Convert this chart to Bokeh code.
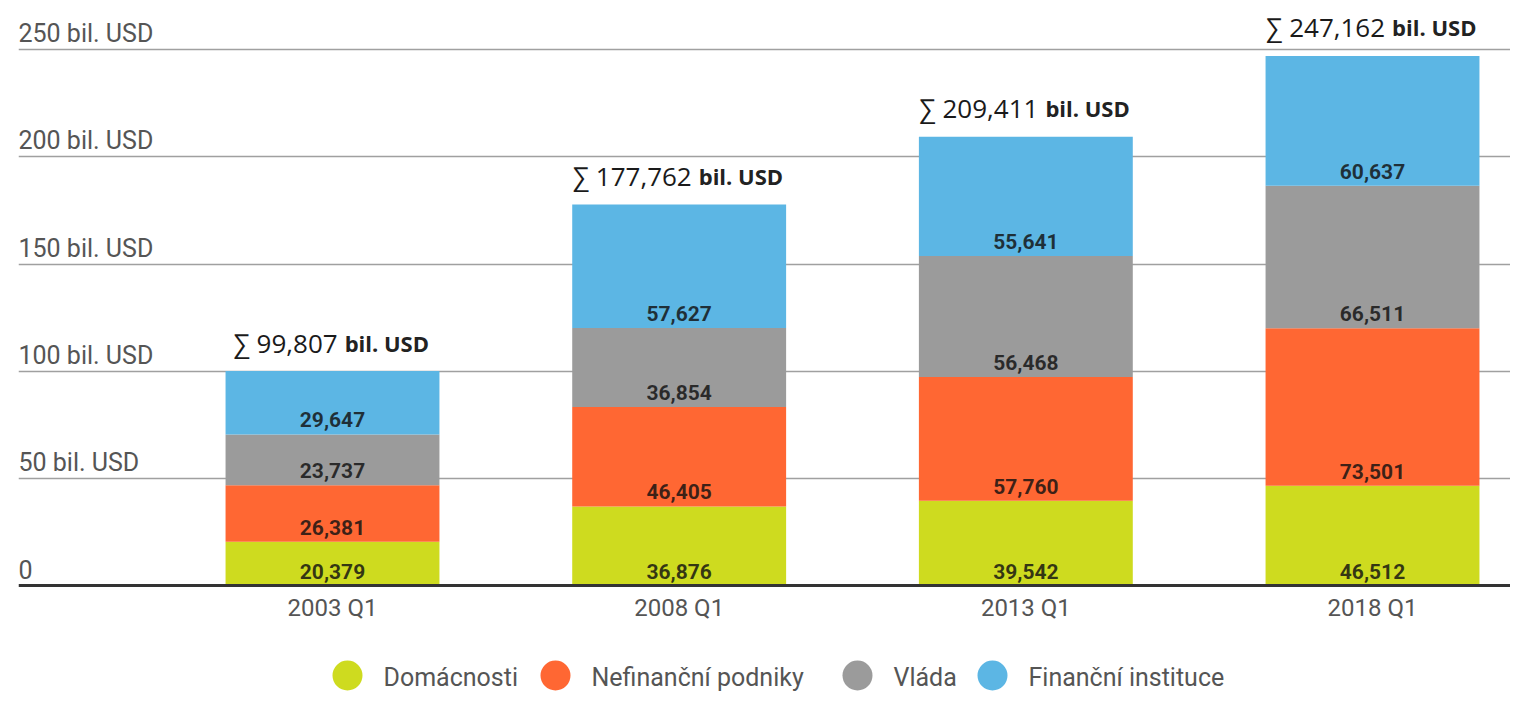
from bokeh.plotting import figure
from bokeh.models import ColumnDataSource, Range1d, FixedTicker, Span, Grid
from bokeh.core.properties import value
from bokeh.embed import file_html
from bokeh.resources import INLINE

# ---------------- data ----------------
quarters = ["2003 Q1", "2008 Q1", "2013 Q1", "2018 Q1"]
series = ["Domácnosti", "Nefinanční podniky", "Vláda", "Finanční instituce"]
domacnosti = [20.379, 36.876, 39.542, 46.512]
nefinancni = [26.381, 46.405, 57.760, 73.501]
vlada = [23.737, 36.854, 56.468, 66.511]
financni = [29.647, 57.627, 55.641, 60.637]
totals = [99.807, 177.762, 209.411, 247.162]
y_ticks = [0, 50, 100, 150, 200, 250]
y_tick_labels = ["0", "50 bil. USD", "100 bil. USD", "150 bil. USD", "200 bil. USD", "250 bil. USD"]
unit_label = "bil. USD"

# ---------------- style ----------------
colors = ["#CEDB1F", "#FF6733", "#9B9B9B", "#5CB6E4"]
W, H = 1510, 692
LEFT = 18
PX_PER_UNIT = 2.1428
BASE_PX = 585          # baseline distance from figure top
STEP_PX = 346.67       # distance between bar centres
FIRST_PX = 314         # first bar centre from frame left
frame_w = W - LEFT

x_start = -FIRST_PX / STEP_PX
x_end = x_start + frame_w / STEP_PX
y_start = -(H - BASE_PX) / PX_PER_UNIT
y_end = BASE_PX / PX_PER_UNIT


def fmt(v):
    return f"{v:.3f}".replace(".", ",")


p = figure(width=W, height=H, x_range=Range1d(x_start, x_end), y_range=Range1d(y_start, y_end),
           output_backend="svg", toolbar_location=None,
           x_axis_location=None, y_axis_location=None,
           min_border_left=LEFT, min_border_right=0, min_border_top=0, min_border_bottom=0)
p.outline_line_color = None
p.background_fill_color = "white"
p.border_fill_color = "white"
for g in list(p.grid):
    g.visible = False

p.extra_x_ranges = {"px": Range1d(LEFT, W)}
p.extra_y_ranges = {"px": Range1d(H, 0)}

# grid lines
p.add_layout(Grid(dimension=1, ticker=FixedTicker(ticks=y_ticks[1:]),
                  grid_line_color="#a0a0a0", grid_line_width=1.3))

# bars
keys = ["dom", "nef", "vla", "fin"]
xs = list(range(len(quarters)))
src = ColumnDataSource(dict(x=xs, dom=domacnosti, nef=nefinancni, vla=vlada, fin=financni))
p.vbar_stack(keys, x="x", width=0.617, fill_color=colors, line_color=None, source=src)

# baseline
p.add_layout(Span(location=0, dimension="width", line_color="#333333", line_width=3))

# segment labels
lx, ly, lt = [], [], []
for i in xs:
    bottom = 0.0
    for arr in (domacnosti, nefinancni, vlada, financni):
        lx.append(i)
        ly.append(bottom)
        lt.append(fmt(arr[i]))
        bottom += arr[i]
p.text(x="x", y="y", text="t", source=ColumnDataSource(dict(x=lx, y=ly, t=lt)),
       text_font=value("Roboto"), text_font_style="bold", text_font_size="21px",
       text_align="center", text_baseline="middle", y_offset=-14.5,
       text_color="#111111", text_alpha=0.82)

# totals
num_txt = ["∑ " + fmt(t) for t in totals]
num_w = [26 * (0.572 * (len(fmt(t)) - 1) + 0.27 + 0.26 + 0.62) for t in totals]
split = [(w - 94) / 2 for w in num_w]
tsrc = ColumnDataSource(dict(x=xs, y=totals, t=num_txt, off=split,
                             off2=[s + 7 for s in split], u=[unit_label] * len(xs)))
p.text(x="x", y="y", text="t", x_offset="off", y_offset=-29, source=tsrc,
       text_font=value("Open Sans"), text_font_size="26px", text_align="right",
       text_baseline="middle", text_color="#1a1a1a")
p.text(x="x", y="y", text="u", x_offset="off2", y_offset=-28.5, source=tsrc,
       text_font=value("Open Sans"), text_font_style="bold", text_font_size="22px",
       text_align="left", text_baseline="middle", text_color="#222222")

# x category labels
p.text(x=xs, y=[0] * len(xs), text=quarters, y_offset=22.5,
       text_font=value("Roboto"), text_font_size="24px", text_align="center",
       text_baseline="middle", text_color="#555555")

# y tick labels
p.text(x=[x_start] * len(y_ticks), y=y_ticks, text=y_tick_labels, y_offset=-16,
       text_font=value("Roboto"), text_font_size="25px", text_align="left",
       text_baseline="middle", text_color="#555555")

# legend (screen-pixel layout)
leg_cx = [347, 555, 857, 992]
leg_cy = 675
p.scatter(x=leg_cx, y=[leg_cy] * 4, size=30, marker="circle", fill_color=colors, line_color=None,
          x_range_name="px", y_range_name="px")
p.text(x=[c + 36 for c in leg_cx], y=[leg_cy + 2] * 4, text=series,
       x_range_name="px", y_range_name="px",
       text_font=value("Roboto"), text_font_size="25px", text_align="left",
       text_baseline="middle", text_color="#555555")

open("out.html", "w").write(file_html(p, INLINE))
